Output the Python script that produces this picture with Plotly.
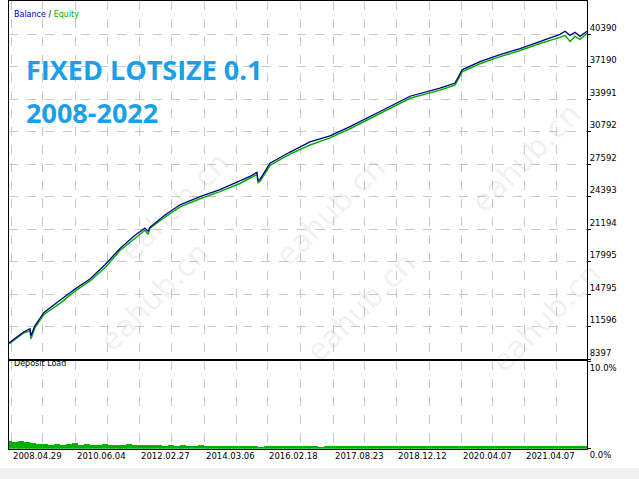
import plotly.graph_objects as go

# trade index (x) and balance/equity values
trade_idx = [0, 8, 15, 21, 22, 26, 35, 51, 66, 81, 96, 111, 126, 136, 139, 141, 156, 171, 191, 211, 231, 241, 248, 249, 251, 261, 281, 301, 321, 341, 371, 401, 431, 446, 451, 453, 471, 491, 511, 531, 551, 556, 561, 566, 571, 578]
balance = [9997, 10600, 11100, 11400, 10700, 11700, 13000, 14200, 15300, 16300, 17700, 19300, 20600, 21300, 21000, 21400, 22600, 23600, 24400, 25100, 26000, 26400, 26800, 26000, 26100, 27700, 28800, 29800, 30400, 31300, 32800, 34300, 35100, 35600, 36500, 36900, 37700, 38400, 39000, 39700, 40400, 40700, 40300, 40600, 40200, 40700]
equity = [9900, 10500, 11000, 11200, 10400, 11500, 12800, 13900, 15100, 16100, 17400, 19100, 20300, 21100, 20700, 21300, 22400, 23400, 24200, 24900, 25700, 26200, 26600, 25800, 25900, 27500, 28600, 29500, 30200, 31100, 32600, 34100, 34900, 35400, 36300, 36700, 37500, 38200, 38800, 39500, 40100, 40300, 39700, 40200, 39900, 40500]

load_idx = list(range(0, 578, 6))
deposit_load = [0.9, 0.8, 0.9, 0.8, 0.6, 0.5, 0.5, 0.4, 0.5, 0.4, 0.5, 0.6, 0.4, 0.5, 0.4, 0.4, 0.5, 0.4, 0.4, 0.4, 0.5, 0.4, 0.4, 0.4, 0.4, 0.4, 0.3, 0.4, 0.3, 0.4, 0.3, 0.3, 0.4, 0.3, 0.3, 0.3, 0.3, 0.3, 0.3, 0.3, 0.3, 0.3, 0.2, 0.3, 0.3, 0.3, 0.3, 0.3, 0.3, 0.3, 0.3, 0.3, 0.2, 0.3, 0.3, 0.3, 0.3, 0.3, 0.3, 0.3, 0.3, 0.3, 0.3, 0.3, 0.3, 0.3, 0.3, 0.3, 0.3, 0.3, 0.3, 0.3, 0.3, 0.3, 0.3, 0.3, 0.3, 0.3, 0.3, 0.3, 0.3, 0.3, 0.3, 0.3, 0.3, 0.3, 0.3, 0.3, 0.3, 0.3, 0.3, 0.3, 0.3, 0.3, 0.3, 0.3, 0.3]

y_ticks = [8397, 11596, 14795, 17995, 21194, 24393, 27592, 30792, 33991, 37190, 40390]
x_grid = [2, 66, 130, 195, 258, 324, 387, 452, 515]
x_labels = ["2008.04.29", "2010.06.04", "2012.02.27", "2014.03.06", "2016.02.18", "2017.08.23", "2018.12.12", "2020.04.07", "2021.04.07"]
x_minor = [33, 98, 162, 227, 291, 355, 420, 483, 547]


def py(y):
    v = 1 - ((y - 5.5) / 0.959) / 479
    return min(max(v, 0), 1)


fig = go.Figure()
fig.add_trace(go.Scatter(x=trade_idx, y=equity, mode="lines", line=dict(color="#00b000", width=1.5), xaxis="x", yaxis="y"))
fig.add_trace(go.Scatter(x=trade_idx, y=balance, mode="lines", line=dict(color="#00008b", width=1.3), xaxis="x", yaxis="y"))
fig.add_trace(go.Bar(x=load_idx, y=deposit_load[:len(load_idx)], width=6, marker=dict(color="#00b000", line_width=0), xaxis="x2", yaxis="y2"))

grid = dict(showgrid=True, gridcolor="#c8c8c8", griddash="dash", gridwidth=1)
xr = [0, 578]
fig.update_layout(
    width=639, height=479, margin=dict(l=0, r=0, t=0, b=0),
    paper_bgcolor="white", plot_bgcolor="white", showlegend=False, bargap=0,
    font=dict(family="DejaVu Sans", size=9, color="black"),
    xaxis=dict(domain=[9/639, 587/639], range=xr, anchor="y", tickvals=x_grid + x_minor, showticklabels=False,
               showline=True, linecolor="black", mirror=True, zeroline=False, **grid),
    yaxis=dict(domain=[py(358), 0.998], range=[8397, 43690], side="right", tickvals=y_ticks,
               ticktext=[str(v) for v in y_ticks], ticks="outside", ticklen=3, tickcolor="black",
               tickfont=dict(size=8.5), ticklabelposition="outside top",
               showline=True, linecolor="black", mirror=True, zeroline=False, **grid),
    xaxis2=dict(domain=[9/639, 587/639], range=xr, anchor="y2", tickvals=x_grid + x_minor, showticklabels=False,
                showline=True, linecolor="black", mirror=True, zeroline=False, **grid),
    yaxis2=dict(domain=[py(446), py(360)], range=[0, 10], side="right", tickvals=[0, 10],
                ticktext=["0.0%", "10.0%"], ticks="outside", ticklen=3, tickcolor="black", tickfont=dict(size=8.5),
                ticklabelposition="outside bottom",
                showline=True, linecolor="black", mirror=True, zeroline=False, showgrid=False),
)
for xv, lab in zip(x_grid, x_labels):
    fig.add_annotation(x=xv, y=py(453), xref="x2", yref="paper", text=lab, showarrow=False,
                       xanchor="left", yanchor="middle", font=dict(size=8.5))
fig.add_annotation(x=12/639, y=py(13), xref="paper", yref="paper", showarrow=False, xanchor="left",
                   text="<span style='color:#0000c0'>Balance</span> / <span style='color:#00b000'>Equity</span>", font=dict(size=8))
fig.add_annotation(x=12/639, y=py(369), xref="paper", yref="paper", showarrow=False, xanchor="left",
                   text="Deposit Load", font=dict(size=8))
for txt, yy in [("FIXED LOTSIZE 0.1", 54), ("2008-2022", 96)]:
    fig.add_annotation(x=24/639, y=py(yy), xref="paper", yref="paper", showarrow=False, xanchor="left",
                       text="<b>"+txt+"</b>", font=dict(family="Open Sans", size=27, color="#1aa0e8"))
for wx, wy in [(110, 145), (330, 150), (590, 160), (90, 360), (360, 370), (610, 380)]:
    fig.add_annotation(x=wx/639, y=py(wy), xref="paper", yref="paper", showarrow=False, textangle=-45,
                       text="eahub.cn", font=dict(family="DejaVu Sans", size=30, color="rgba(150,150,150,0.15)"))
fig.add_shape(type="rect", xref="paper", yref="paper", x0=0, x1=1, y0=-0.05, y1=py(466),
              fillcolor="#f0f0f0", line_width=0, layer="below")
fig.write_html("out.html", config={"displayModeBar": False},
               post_script="document.body.style.margin='0';document.body.style.overflow='hidden';window.scrollTo(0,0);")
